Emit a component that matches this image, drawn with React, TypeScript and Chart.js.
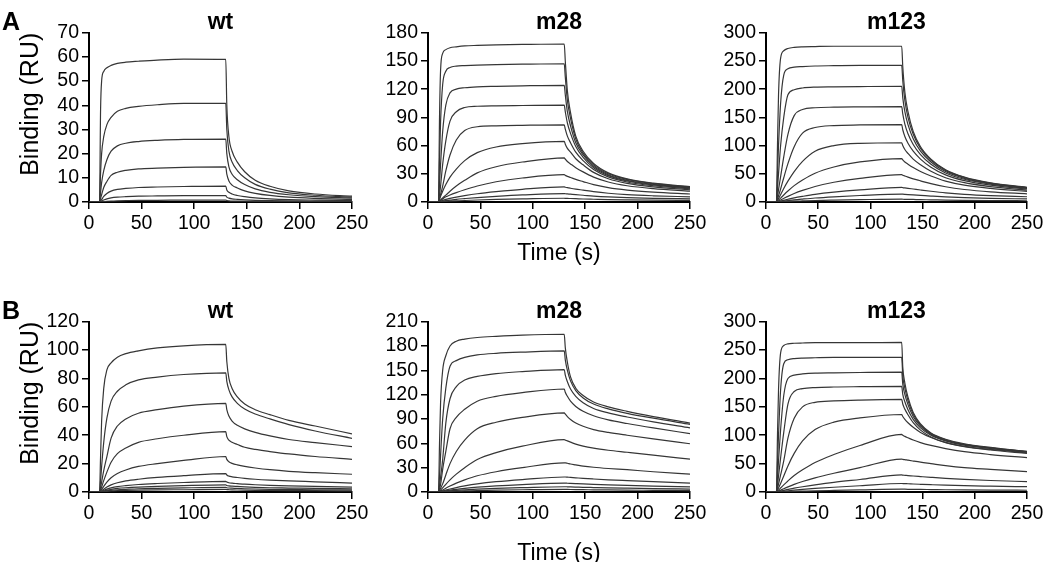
import React, { useEffect, useRef } from 'react';
import { Chart, registerables } from 'chart.js';

Chart.register(...registerables);

// ---------- data ----------
// time grid (s)
const TIME = [0, 10, 11, 12, 14, 17, 21, 27, 35, 47, 65, 90, 130, 131, 133, 136, 141, 148, 158, 172, 190, 215, 250];
const X_TICKS = [0, 50, 100, 150, 200, 250];

const A_WT_Y_TICKS = [0, 10, 20, 30, 40, 50, 60, 70];
const A_M28_Y_TICKS = [0, 30, 60, 90, 120, 150, 180];
const A_M123_Y_TICKS = [0, 50, 100, 150, 200, 250, 300];
const B_WT_Y_TICKS = [0, 20, 40, 60, 80, 100, 120];
const B_M28_Y_TICKS = [0, 30, 60, 90, 120, 150, 180, 210];
const B_M123_Y_TICKS = [0, 50, 100, 150, 200, 250, 300];

// binding (RU), one row per analyte concentration, values on TIME
const A_WT = [
  [0, 0, 38, 50, 54, 55.5, 56.5, 57.3, 57.8, 58.2, 58.7, 59.1, 59, 40, 27, 21, 16.5, 12.5, 9, 6.5, 4.6, 3.3, 2.4],
  [0, 0, 12, 20, 27, 32, 35, 37.5, 38.7, 39.5, 40.2, 40.8, 40.8, 30, 21, 16.5, 13, 10, 7.3, 5.3, 3.8, 2.8, 2],
  [0, 0, 4, 8, 13, 17.5, 21, 23.2, 24.3, 25, 25.5, 25.9, 26, 20, 14.5, 11.5, 9.2, 7.2, 5.4, 4, 3, 2.2, 1.6],
  [0, 0, 1.5, 3, 6, 8.5, 11, 12.3, 13.1, 13.7, 14, 14.3, 14.5, 11.5, 8.7, 7, 5.8, 4.6, 3.6, 2.7, 2, 1.5, 1.1],
  [0, 0, 0.5, 1, 2.3, 3.5, 4.5, 5.2, 5.6, 6, 6.2, 6.4, 6.6, 5, 4, 3.3, 2.7, 2.2, 1.7, 1.3, 1, 0.8, 0.6],
  [0, 0, 0.2, 0.4, 0.8, 1.3, 1.7, 2, 2.2, 2.4, 2.5, 2.6, 2.6, 2, 1.6, 1.3, 1.1, 0.9, 0.7, 0.6, 0.5, 0.4, 0.3],
  [0, 0, 0.1, 0.1, 0.2, 0.3, 0.4, 0.5, 0.6, 0.7, 0.7, 0.8, 0.8, 0.6, 0.5, 0.4, 0.35, 0.3, 0.25, 0.2, 0.2, 0.15, 0.1],
];

const A_M28 = [
  [0, 0, 90, 140, 158, 162, 164, 165, 166, 166.5, 167, 167.5, 168, 150, 118, 95, 70, 54, 41, 31, 24.5, 20, 16.3],
  [0, 0, 45, 85, 125, 139, 143, 144.5, 145, 145.5, 146, 146.5, 147, 133, 108, 89, 67, 52, 39.5, 30, 24, 19.5, 15.8],
  [0, 0, 20, 40, 75, 103, 116, 120, 121.5, 122.5, 123, 123.5, 124, 114, 96, 81, 63, 50, 38, 29, 23, 18.8, 15.3],
  [0, 0, 8, 17, 40, 65, 86, 96, 100.5, 101.8, 102.3, 102.6, 103, 96, 84, 73, 59, 47.5, 36.5, 28, 22.3, 18.2, 14.7],
  [0, 0, 4, 8, 17, 33, 50, 66, 76, 80, 81, 81.5, 82, 77.5, 70, 63, 53, 44, 34.5, 26.7, 21.3, 17.3, 14],
  [0, 0, 3, 6, 11.5, 18.5, 26.5, 35, 44, 52.5, 58.5, 62, 64.5, 61.5, 57, 53, 46, 39.5, 31.5, 24.7, 19.8, 16.1, 13],
  [0, 0, 1, 2.2, 4.3, 7.3, 11.5, 17, 23, 31, 37.5, 42.5, 47, 45.5, 43, 40.5, 36.5, 32, 26.5, 21.3, 17.3, 14.2, 11.5],
  [0, 0, 0.8, 1.6, 3.3, 5.5, 7.5, 10, 13, 17, 21.5, 25.5, 29, 28.3, 27.2, 26, 24, 21.7, 18.5, 15.3, 12.7, 10.5, 8.5],
  [0, 0, 0.4, 0.8, 1.7, 2.8, 3.8, 5.2, 6.8, 8.8, 11, 13.5, 16, 15.7, 15.2, 14.6, 13.7, 12.6, 11, 9.3, 7.8, 6.6, 5.5],
  [0, 0, 0.2, 0.4, 0.9, 1.5, 2, 2.8, 3.6, 4.7, 6, 7.5, 9, 8.8, 8.6, 8.3, 7.8, 7.2, 6.3, 5.4, 4.6, 3.9, 3.3],
  [0, 0, 0.1, 0.2, 0.4, 0.7, 0.9, 1.2, 1.6, 2.1, 2.7, 3.3, 4, 3.9, 3.8, 3.7, 3.5, 3.2, 2.9, 2.5, 2.2, 1.9, 1.7],
];

const A_M123 = [
  [0, 0, 100, 190, 255, 268, 272, 274, 275, 275.5, 276, 276, 276, 240, 195, 160, 125, 98, 76, 57, 44, 34, 26],
  [0, 0, 50, 100, 175, 225, 236, 239, 240, 241, 241.5, 242, 242, 215, 180, 150, 120, 95, 74, 56, 43.5, 33.5, 25.5],
  [0, 0, 25, 50, 100, 150, 190, 199, 202, 203.5, 204, 204.5, 205, 185, 160, 137, 112, 90, 71, 54, 42, 32.8, 25],
  [0, 0, 10, 22, 45, 80, 120, 153, 164, 167, 168, 168.5, 169, 156, 138, 121, 102, 84, 67, 51.5, 40.3, 31.6, 24.2],
  [0, 0, 5, 11, 23, 43, 68, 98, 122, 132, 135.5, 136.5, 137, 128, 116, 104, 90, 76, 61.5, 48, 37.8, 29.8, 23],
  [0, 0, 3, 6, 13, 24, 37, 54, 72, 90, 100, 104, 105, 100, 93, 86, 76, 66, 54.5, 43, 34.2, 27.2, 21],
  [0, 0, 1.5, 3.2, 7, 12.5, 19.5, 29, 39, 51, 62, 71, 77, 74.5, 71, 67, 61, 54, 46, 37, 29.8, 24, 18.7],
  [0, 0, 0.8, 1.7, 3.5, 6.3, 10, 15, 20.5, 27.5, 35, 42, 48.5, 47.5, 46, 44, 41, 37.5, 32.5, 27, 22.2, 18, 14.5],
  [0, 0, 0.4, 0.8, 1.7, 3, 4.8, 7.3, 10, 13.6, 17.5, 21.5, 26, 25.6, 25, 24.2, 23, 21.3, 19, 16.2, 13.6, 11.3, 9.3],
  [0, 0, 0.2, 0.4, 0.9, 1.6, 2.5, 3.8, 5.2, 7.1, 9.2, 11.5, 14, 13.8, 13.5, 13.1, 12.5, 11.7, 10.5, 9, 7.7, 6.5, 5.4],
  [0, 0, 0.1, 0.15, 0.3, 0.6, 0.9, 1.4, 1.9, 2.6, 3.3, 4.1, 5, 4.9, 4.8, 4.7, 4.5, 4.2, 3.9, 3.4, 3, 2.6, 2.2],
];

const B_WT = [
  [0, 0, 25, 50, 73, 86, 91, 95, 97.5, 99.5, 101.5, 103, 104, 92, 80, 73, 67, 62, 58, 54.5, 50.5, 46.5, 41],
  [0, 0, 8, 18, 35, 52, 64, 71, 75.5, 79, 81, 82.8, 84, 78, 72, 67, 62.5, 58.5, 55, 51.5, 47.5, 43, 37.8],
  [0, 0, 3, 7, 15, 25, 38, 46.5, 51.5, 55.5, 58, 60.5, 62.5, 58, 53.5, 50, 47, 44.5, 42, 39.5, 37, 34.8, 32],
  [0, 0, 1.5, 3.5, 8, 14, 21, 27, 31, 35, 37.5, 40, 42.5, 39, 36.5, 35, 33.5, 31.5, 30, 28.5, 26.8, 25, 23],
  [0, 0, 0.8, 1.8, 4, 7, 10, 13, 15.5, 18, 20, 22.3, 25, 23, 21.3, 20.2, 19.1, 18, 16.9, 15.7, 14.6, 13.6, 12.5],
  [0, 0, 0.4, 0.9, 2, 3.5, 5, 6.5, 7.8, 9, 10.3, 11.5, 13, 12, 11.2, 10.7, 10.2, 9.6, 9, 8.4, 7.8, 7.2, 6.3],
  [0, 0, 0.2, 0.5, 1.1, 2, 2.9, 3.8, 4.5, 5.3, 6, 6.7, 7.5, 7, 6.5, 6.2, 5.9, 5.5, 5.1, 4.7, 4.3, 3.9, 3.5],
  [0, 0, 0.1, 0.3, 0.7, 1.3, 1.9, 2.5, 3, 3.5, 4, 4.5, 5, 4.6, 4.3, 4.1, 3.9, 3.6, 3.3, 3, 2.8, 2.5, 2.3],
  [0, 0, 0.1, 0.2, 0.5, 0.8, 1.2, 1.6, 1.9, 2.3, 2.6, 2.9, 3.2, 3, 2.8, 2.7, 2.5, 2.3, 2.1, 1.9, 1.8, 1.6, 1.5],
  [0, 0, 0.05, 0.1, 0.3, 0.5, 0.7, 0.9, 1.1, 1.3, 1.5, 1.6, 1.8, 1.7, 1.6, 1.5, 1.4, 1.3, 1.2, 1.1, 1, 0.9, 0.8],
];

const B_M28 = [
  [0, 0, 60, 110, 150, 168, 180, 186, 188.5, 190.5, 192, 193.5, 194.5, 178, 160, 142, 128, 119, 111, 105, 99.5, 93, 85],
  [0, 0, 20, 45, 90, 128, 155, 162, 166, 169, 171, 172.5, 174, 163, 150, 137, 125, 116, 108.5, 102.5, 97, 91, 83.5],
  [0, 0, 8, 18, 40, 85, 115, 130, 138, 142.5, 146, 148.5, 151, 144, 136, 127, 118, 110, 103, 97.5, 92.5, 86.5, 79],
  [0, 0, 4, 9, 28, 50, 78, 92, 102, 112, 118, 122.5, 127, 123, 118, 112, 105.5, 99.5, 94, 89, 84.5, 79, 72],
  [0, 0, 2, 4.5, 10, 21, 35, 50, 64, 78, 86, 92, 97.5, 96, 93, 89.5, 85, 81, 77, 73.5, 70, 65.5, 59.5],
  [0, 0, 1, 2.2, 5, 9.5, 15, 22, 30, 40, 48.5, 56.5, 64.5, 64, 63, 61.5, 59, 56.5, 54, 51.5, 49, 45.5, 40.5],
  [0, 0, 0.5, 1.1, 2.5, 4.6, 7.3, 11, 15, 20, 25, 30, 36, 36, 35.5, 34.5, 33.5, 32, 30.5, 29, 27.5, 25, 22],
  [0, 0, 0.3, 0.6, 1.3, 2.3, 3.7, 5.5, 7.5, 10, 12.7, 15.3, 18.5, 18.5, 18.3, 18, 17.5, 16.8, 16, 15, 14, 12.7, 11],
  [0, 0, 0.15, 0.35, 0.8, 1.4, 2.2, 3.3, 4.5, 6, 7.6, 9.2, 11, 11, 10.8, 10.6, 10.3, 9.9, 9.4, 8.8, 8.1, 7.3, 6.3],
  [0, 0, 0.1, 0.2, 0.5, 0.8, 1.3, 1.9, 2.6, 3.5, 4.5, 5.4, 6.5, 6.5, 6.4, 6.3, 6.1, 5.8, 5.5, 5.1, 4.7, 4.2, 3.6],
  [0, 0, 0.05, 0.1, 0.25, 0.4, 0.65, 1, 1.3, 1.8, 2.3, 2.8, 3.3, 3.3, 3.2, 3.1, 3, 2.9, 2.7, 2.5, 2.3, 2.1, 1.8],
];

const B_M123 = [
  [0, 0, 100, 180, 245, 258, 261, 262, 262.5, 263, 263, 263, 263.5, 220, 192, 167, 140, 120, 104, 93, 85, 78.5, 71.5],
  [0, 0, 50, 100, 180, 226, 233, 235, 236, 236.5, 237, 237, 237, 205, 183, 161, 137, 118, 103, 92, 84, 78, 71],
  [0, 0, 25, 55, 110, 170, 200, 206, 208, 209.5, 210, 210.5, 211, 190, 172, 154, 133, 116, 101.5, 91, 83.5, 77.5, 70.5],
  [0, 0, 12, 28, 60, 105, 155, 177, 182, 184, 185, 185.5, 186, 172, 159, 145, 128, 113, 100, 90, 82.5, 76.5, 70],
  [0, 0, 6, 14, 30, 55, 95, 130, 150, 158, 160.5, 162, 163, 155, 146, 136, 122, 109, 97, 87.5, 80.5, 75, 69],
  [0, 0, 3, 7, 15, 28, 46, 68, 90, 110, 123, 130.5, 136.5, 133, 128, 122, 114, 105, 96, 87, 80, 74, 68],
  [0, 0, 1.5, 3.2, 7, 12.5, 19.5, 29, 39, 52, 66, 82, 101.5, 100, 98, 95.5, 91.5, 87, 82, 76.5, 71, 66, 60.5],
  [0, 0, 0.7, 1.5, 3.2, 5.8, 9, 13.5, 18.5, 25, 33, 43, 58, 57.5, 57, 56, 54.5, 52.5, 50, 46.5, 43, 40, 36],
  [0, 0, 0.35, 0.75, 1.6, 2.9, 4.5, 6.8, 9.3, 12.6, 17, 22, 30, 29.7, 29.4, 29, 28.2, 27.2, 25.8, 24, 22.2, 20.3, 18.3],
  [0, 0, 0.2, 0.4, 0.8, 1.4, 2.2, 3.3, 4.6, 6.3, 8.4, 11, 15, 14.9, 14.7, 14.5, 14.1, 13.6, 12.9, 12, 11.1, 10.3, 9.3],
  [0, 0, 0.05, 0.1, 0.25, 0.45, 0.7, 1.1, 1.5, 2.1, 2.8, 3.7, 5, 5, 4.9, 4.8, 4.7, 4.5, 4.3, 4, 3.7, 3.4, 3.1],
];

const Y_TITLE = 'Binding (RU)';
const X_TITLE = 'Time (s)';

// ---------- styling / layout ----------
const FONT = "'Liberation Sans', Arial, Helvetica, sans-serif";
const LINE_COLOR = '#363636';

type PanelSpec = {
  title: string;
  curves: number[][];
  yTicks: number[];
  left: number;
  top: number;
  width: number;
  height: number;
  yAxisWidth: number;
  xAxisHeight: number;
  showYTitle: boolean;
  showXTitle: boolean;
};

const COLS = [
  { left: 0, width: 372, yAxisWidth: 89 },
  { left: 370, width: 340, yAxisWidth: 58 },
  { left: 710, width: 337, yAxisWidth: 56 },
];
const ROWS = [
  { top: 12, height: 258, xAxisHeight: 68 },
  { top: 301, height: 269, xAxisHeight: 78 },
];

function spec(row: number, col: number, title: string, curves: number[][], yTicks: number[]): PanelSpec {
  return {
    title,
    curves,
    yTicks,
    left: COLS[col].left,
    width: COLS[col].width,
    yAxisWidth: COLS[col].yAxisWidth,
    top: ROWS[row].top,
    height: ROWS[row].height,
    xAxisHeight: ROWS[row].xAxisHeight,
    showYTitle: col === 0,
    showXTitle: col === 1,
  };
}

const PANELS: PanelSpec[] = [
  spec(0, 0, 'wt', A_WT, A_WT_Y_TICKS),
  spec(0, 1, 'm28', A_M28, A_M28_Y_TICKS),
  spec(0, 2, 'm123', A_M123, A_M123_Y_TICKS),
  spec(1, 0, 'wt', B_WT, B_WT_Y_TICKS),
  spec(1, 1, 'm28', B_M28, B_M28_Y_TICKS),
  spec(1, 2, 'm123', B_M123, B_M123_Y_TICKS),
];

function buildConfig(p: PanelSpec): any {
  const tickFont = { family: FONT, size: 19.5 };
  const axisCommon = {
    grid: { display: true, drawOnChartArea: false, drawTicks: true, tickLength: 7, color: '#000', lineWidth: 1.5 },
    border: { display: true, color: '#000', width: 2 },
  };
  return {
    type: 'line',
    data: {
      datasets: p.curves.map((c) => ({
        data: TIME.map((t, i) => ({ x: t, y: c[i] })),
        borderColor: LINE_COLOR,
        borderWidth: 1.2,
        pointRadius: 0,
        fill: false,
        cubicInterpolationMode: 'monotone',
      })),
    },
    options: {
      responsive: false,
      maintainAspectRatio: false,
      animation: false,
      events: [],
      layout: { padding: { left: 0, right: 20, top: 0, bottom: 0 } },
      plugins: {
        legend: { display: false },
        tooltip: { enabled: false },
        title: {
          display: true,
          text: p.title,
          fullSize: false,
          color: '#000',
          padding: 0,
          font: { family: FONT, size: 23, weight: 'bold', lineHeight: 0.9 },
        },
      },
      scales: {
        x: {
          type: 'linear',
          min: X_TICKS[0],
          max: X_TICKS[X_TICKS.length - 1],
          afterBuildTicks: (s: any) => {
            s.ticks = X_TICKS.map((v) => ({ value: v }));
          },
          afterFit: (s: any) => {
            s.height = p.xAxisHeight;
          },
          ticks: { font: tickFont, color: '#000', padding: 3, maxRotation: 0, autoSkip: false },
          title: {
            display: p.showXTitle,
            text: X_TITLE,
            color: '#000',
            padding: { top: 0, bottom: 3 },
            font: { family: FONT, size: 23 },
          },
          ...axisCommon,
        },
        y: {
          type: 'linear',
          min: p.yTicks[0],
          max: p.yTicks[p.yTicks.length - 1],
          afterBuildTicks: (s: any) => {
            s.ticks = p.yTicks.map((v) => ({ value: v }));
          },
          afterFit: (s: any) => {
            s.width = p.yAxisWidth;
          },
          ticks: { font: tickFont, color: '#000', padding: 3, autoSkip: false },
          title: {
            display: p.showYTitle,
            text: Y_TITLE,
            color: '#000',
            align: 'end',
            padding: { top: 16, bottom: 0 },
            font: { family: FONT, size: 25 },
          },
          ...axisCommon,
        },
      },
    },
  };
}

function Panel({ p }: { p: PanelSpec }) {
  const ref = useRef<HTMLCanvasElement | null>(null);
  useEffect(() => {
    if (!ref.current) return;
    const chart = new Chart(ref.current, buildConfig(p));
    return () => chart.destroy();
  }, [p]);
  return (
    <canvas
      ref={ref}
      width={p.width}
      height={p.height}
      style={{ position: 'absolute', left: p.left, top: p.top, width: p.width, height: p.height }}
    />
  );
}

const letterStyle: React.CSSProperties = {
  position: 'absolute',
  fontFamily: FONT,
  fontWeight: 'bold',
  fontSize: 25,
  lineHeight: '25px',
  color: '#000',
};

export default function App() {
  return (
    <div
      style={{
        position: 'fixed',
        left: 0,
        top: 0,
        width: 1050,
        height: 562,
        overflow: 'hidden',
        background: '#fff',
      }}
    >
      {PANELS.map((p, i) => (
        <Panel key={i} p={p} />
      ))}
      <div style={{ ...letterStyle, left: 2, top: 9 }}>A</div>
      <div style={{ ...letterStyle, left: 2, top: 298 }}>B</div>
    </div>
  );
}
